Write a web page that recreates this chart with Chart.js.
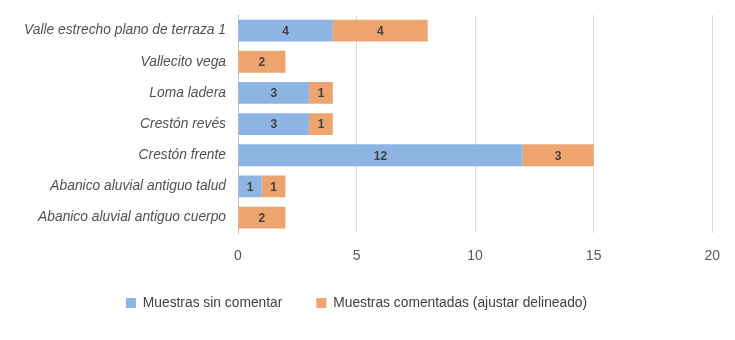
<!DOCTYPE html>
<html>
<head>
<meta charset="utf-8">
<script src="https://cdn.jsdelivr.net/npm/chart.js@4"></script>
<style>
  html, body { margin: 0; padding: 0; background: #fff; }
  #wrap { width: 735px; height: 340px; }
</style>
</head>
<body>
<div id="wrap"><canvas id="ChartMuestras"></canvas></div>
<script>
const categorias = [
    'Valle estrecho plano de terraza 1',
    'Vallecito vega',
    'Loma ladera',
    'Crestón revés',
    'Crestón frente',
    'Abanico aluvial antiguo talud',
    'Abanico aluvial antiguo cuerpo'
];
const sinComentar = [4, null, 3, 3, 12, 1, null];
const comentadas = [4, 2, 1, 1, 3, 1, 2];
const ticksX = [0, 5, 10, 15, 20];

const fuente = '"Liberation Sans", Arial, sans-serif';

// etiquetas de valor dentro de cada barra
const etiquetasBarras = {
    id: 'etiquetasBarras',
    afterDatasetsDraw(chart) {
        const ctx = chart.ctx;
        ctx.save();
        ctx.font = 'bold 12px ' + fuente;
        ctx.fillStyle = '#404040';
        ctx.textAlign = 'center';
        ctx.textBaseline = 'middle';
        chart.data.datasets.forEach((ds, i) => {
            chart.getDatasetMeta(i).data.forEach((bar, j) => {
                const v = ds.data[j];
                if (v === null || v === 0) return;
                const p = bar.getCenterPoint();
                ctx.fillText(String(v), p.x, p.y + 1);
            });
        });
        ctx.restore();
    }
};

const dataMuestras = {
    labels: categorias,
    datasets: [{
        label: 'Muestras sin comentar',
        data: sinComentar,
        backgroundColor: '#8db4e2',
        barPercentage: 0.7,
        categoryPercentage: 1
    }, {
        label: 'Muestras comentadas (ajustar delineado)',
        data: comentadas,
        backgroundColor: '#eda46e',
        barPercentage: 0.7,
        categoryPercentage: 1
    }]
};

const configMuestras = {
    type: 'bar',
    data: dataMuestras,
    options: {
        indexAxis: 'y',
        responsive: true,
        maintainAspectRatio: false,
        animation: false,
        layout: {
            padding: { top: 15, right: 22, bottom: 20, left: 0 }
        },
        plugins: {
            legend: {
                position: 'bottom',
                labels: {
                    boxWidth: 10,
                    boxHeight: 10,
                    padding: 34,
                    color: '#404040',
                    font: { size: 13.8, family: fuente }
                }
            },
            tooltip: { enabled: false }
        },
        scales: {
            x: {
                stacked: true,
                min: 0,
                max: 20,
                afterBuildTicks: (scale) => {
                    scale.ticks = ticksX.map(v => ({ value: v }));
                },
                afterFit: (scale) => { scale.height = 29; },
                grid: { color: '#d9d9d9', drawTicks: false },
                border: { display: false },
                ticks: {
                    padding: 15,
                    color: '#595959',
                    font: { size: 14, family: fuente }
                }
            },
            y: {
                stacked: true,
                grid: { display: false, drawTicks: false },
                border: { color: '#bfbfbf' },
                afterFit: (scale) => {
                    scale.width = 238;
                    scale.paddingTop = 0;
                    scale.paddingBottom = 0;
                },
                ticks: {
                    padding: 12,
                    color: '#505050',
                    font: { size: 13.8, style: 'italic', family: fuente }
                }
            }
        }
    },
    plugins: [etiquetasBarras]
};

const chartMuestras = new Chart(
    document.getElementById('ChartMuestras'),
    configMuestras
);
</script>
</body>
</html>
